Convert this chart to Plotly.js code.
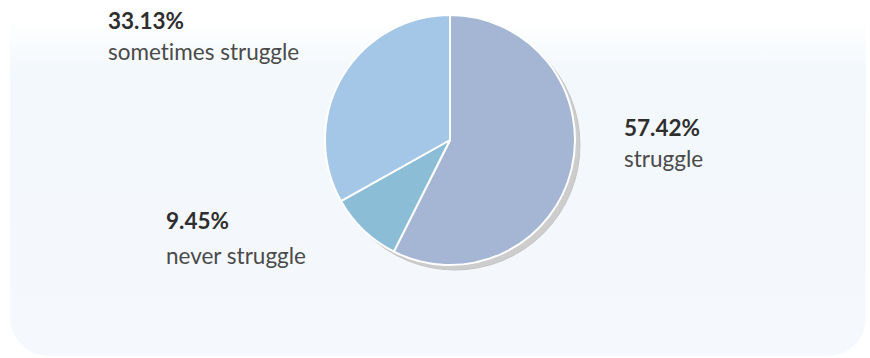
<!DOCTYPE html>
<html>
<head>
<meta charset="utf-8">
<script src="https://cdn.plot.ly/plotly-3.0.1.min.js"></script>
<style>
  html, body { margin: 0; padding: 0; background: #ffffff; overflow: hidden; }
  #wrap { position: relative; width: 870px; height: 358px; }
  #panel {
    position: absolute; left: 10px; top: -80px; width: 856px; height: 436px;
    border-radius: 38px;
    background: linear-gradient(to bottom, #ffffff 0px, #ffffff 100px, #f3f8fc 150px, #f5f8fd 100%);
  }
  #chart { position: absolute; left: 0; top: 0; width: 870px; height: 358px; }
  text { font-variant-ligatures: none; font-feature-settings: "liga" 0; }
</style>
</head>
<body>
<div id="wrap">
  <div id="panel"></div>
  <div id="chart"></div>
</div>
<script>
const categories = ["struggle", "never struggle", "sometimes struggle"];
const values = [57.42, 9.45, 33.13];
const percentLabels = ["57.42%", "9.45%", "33.13%"];
const colors = ["#a5b6d5", "#8bbdd7", "#a4c7e7"];

const W = 870, H = 358;
const cx = 450, cy = 140, r = 125;

const trace = {
  type: "pie",
  labels: categories,
  values: values,
  sort: false,
  direction: "clockwise",
  rotation: 0,
  textinfo: "none",
  hoverinfo: "label+percent",
  showlegend: false,
  automargin: false,
  marker: { colors: colors, line: { color: "#ffffff", width: 2 } },
  domain: { x: [(cx - r) / W, (cx + r) / W], y: [(H - cy - r) / H, (H - cy + r) / H] }
};

// label placements (pixel positions of text left edge)
const labelPos = [
  { x: 622, yPct: 128, yName: 158 },
  { x: 164, yPct: 221, yName: 255 },
  { x: 106, yPct: 21, yName: 52 }
];

const annotations = [];
categories.forEach((c, i) => {
  const p = labelPos[i];
  annotations.push({
    xref: "paper", yref: "paper", x: p.x / W, y: (H - p.yPct) / H,
    xanchor: "left", yanchor: "middle", showarrow: false,
    text: "<b>" + percentLabels[i] + "</b>",
    font: { family: "Lato, 'Open Sans', sans-serif", size: 22.5, color: "#2e2e2e" }
  });
  annotations.push({
    xref: "paper", yref: "paper", x: p.x / W, y: (H - p.yName) / H,
    xanchor: "left", yanchor: "middle", showarrow: false,
    text: c,
    font: { family: "Lato, 'Open Sans', sans-serif", size: 22.5, color: "#4a4a4a" }
  });
});

const off = 5;
const layout = {
  width: W, height: H,
  margin: { l: 0, r: 0, t: 0, b: 0 },
  paper_bgcolor: "rgba(0,0,0,0)",
  plot_bgcolor: "rgba(0,0,0,0)",
  showlegend: false,
  annotations: annotations,
  shapes: [{
    type: "circle", xref: "paper", yref: "paper", layer: "below",
    x0: (cx - r + off) / W, x1: (cx + r + off) / W,
    y0: (H - cy - r - off) / H, y1: (H - cy + r - off) / H,
    fillcolor: "#cdcdcd", line: { color: "#c4c4c4", width: 1 }
  }]
};

Plotly.newPlot("chart", [trace], layout, { displayModeBar: false, staticPlot: true });
</script>
</body>
</html>
